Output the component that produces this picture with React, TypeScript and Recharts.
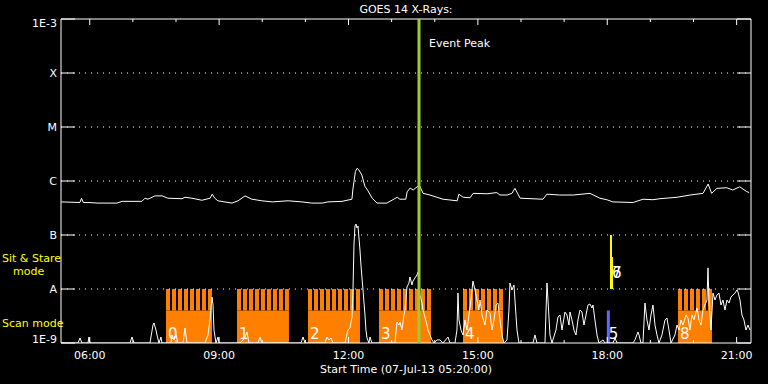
import React from "react";
import { ComposedChart, Line, XAxis, YAxis, ReferenceArea, ReferenceLine } from "recharts";

const W = 768;
const H = 384;
const PLOT_LEFT = 61;
const PLOT_RIGHT = 751;
const PLOT_TOP = 19;
const PLOT_BOTTOM = 343;
const FONT = "'DejaVu Sans', sans-serif";

// time axis in decimal hours (UT), 16 h from start time
const T0 = 5 + 20 / 60;
const T1 = T0 + 16;
const hourTicks = [6, 7, 8, 9, 10, 11, 12, 13, 14, 15, 16, 17, 18, 19, 20, 21];

// flux axis (W/m^2), log scale
const fluxTicks = [1e-9, 1e-8, 1e-7, 1e-6, 1e-5, 1e-4, 1e-3];
const fluxLabels = ["1E-9", "A", "B", "C", "M", "X", "1E-3"];
const classLevels = [1e-8, 1e-7, 1e-6, 1e-5, 1e-4];

// 1-8 A channel [hour, flux]
const longChannel: [number, number][] = [
  [5.34, 4.1e-7], [5.77, 4.0e-7], [5.81, 4.8e-7], [5.85, 4.0e-7], [5.96, 4.0e-7],
  [6.19, 3.9e-7], [6.63, 3.9e-7], [6.75, 4.2e-7], [7.21, 4.2e-7], [7.28, 4.8e-7],
  [7.35, 4.6e-7], [7.51, 5.3e-7], [7.68, 5.3e-7], [7.81, 4.8e-7], [8.14, 4.7e-7],
  [8.21, 5.0e-7], [8.37, 4.8e-7], [8.6, 4.4e-7], [8.79, 4.8e-7], [8.84, 5.7e-7],
  [8.9, 4.8e-7], [8.97, 4.3e-7], [9.3, 3.9e-7], [9.44, 4.3e-7], [9.6, 5.3e-7],
  [9.76, 4.6e-7], [9.99, 4.3e-7], [10.23, 4.1e-7], [10.6, 4.3e-7], [10.92, 4.1e-7],
  [11.15, 3.9e-7], [11.39, 3.9e-7], [11.52, 4.1e-7], [11.85, 4.2e-7], [12.08, 4.6e-7],
  [12.1, 6.8e-7], [12.16, 1.5e-6], [12.2, 1.72e-6], [12.24, 1.6e-6], [12.31, 1.29e-6],
  [12.38, 8.0e-7], [12.45, 6.6e-7], [12.55, 4.8e-7], [12.66, 3.9e-7], [12.89, 3.9e-7],
  [13.13, 5.0e-7], [13.19, 4.6e-7], [13.33, 4.6e-7], [13.36, 6.3e-7], [13.43, 7.4e-7],
  [13.5, 6.8e-7], [13.59, 7.8e-7], [13.64, 8.4e-7], [13.73, 5.9e-7], [13.89, 5.5e-7],
  [14.05, 5.0e-7], [14.19, 4.6e-7], [14.52, 4.3e-7], [14.56, 5.7e-7], [14.66, 5.0e-7],
  [14.82, 4.9e-7], [14.89, 5.9e-7], [15.21, 5.8e-7], [15.44, 6.1e-7], [15.51, 5.5e-7],
  [15.68, 5.5e-7], [15.79, 5.9e-7], [15.86, 7.3e-7], [15.98, 4.8e-7], [16.51, 4.6e-7],
  [16.6, 5.7e-7], [16.9, 5.5e-7], [17.21, 5.5e-7], [17.6, 5.9e-7], [17.83, 4.8e-7],
  [17.99, 4.5e-7], [18.13, 4.1e-7], [18.6, 4.0e-7], [18.83, 4.6e-7], [19.06, 4.5e-7],
  [19.22, 4.7e-7], [19.62, 5.0e-7], [19.92, 5.5e-7], [20.22, 5.9e-7], [20.34, 8.8e-7],
  [20.42, 5.9e-7], [20.54, 7.3e-7], [20.77, 7.5e-7], [20.91, 6.8e-7], [21.07, 7.8e-7],
  [21.23, 6.4e-7], [21.29, 6.1e-7],
];

// 0.5-4 A channel [hour, flux]
const shortChannel: [number, number][] = [
  [5.34, 1e-9], [5.727, 1e-9], [5.774, 1.24e-9], [5.82, 1e-9], [5.959, 1e-9], [5.982, 1.29e-9], [6.005, 1e-9],
  [6.933, 1e-9], [6.979, 1.29e-9], [7.026, 1e-9], [7.397, 1e-9], [7.466, 2.15e-9], [7.489, 2.35e-9],
  [7.536, 1.74e-9], [7.559, 1.41e-9], [7.605, 1e-9], [7.652, 1.29e-9], [7.675, 1e-9], [7.884, 1e-9],
  [7.907, 1.41e-9], [7.953, 1.14e-9], [8.0, 1.41e-9], [8.046, 1e-9], [8.162, 1e-9], [8.208, 1.9e-9],
  [8.255, 1e-9], [8.672, 1e-9], [8.742, 1.41e-9], [8.788, 2.67e-9], [8.834, 7.1e-9], [8.858, 5.05e-9],
  [8.881, 1.74e-9], [8.927, 1e-9], [8.974, 1.29e-9], [8.997, 1e-9], [9.484, 1e-9], [9.553, 1.14e-9],
  [9.6, 1.29e-9], [9.646, 1.6e-9], [9.692, 1e-9], [9.901, 1e-9], [9.947, 1.29e-9], [9.994, 1e-9],
  [10.898, 1e-9], [10.945, 1.29e-9], [10.991, 1e-9], [11.455, 1e-9], [11.501, 1.29e-9], [11.547, 1.14e-9],
  [11.594, 1.24e-9], [11.64, 1e-9], [11.918, 1e-9], [11.988, 1.74e-9], [12.034, 1.9e-9], [12.081, 3.03e-9],
  [12.104, 9.6e-9], [12.127, 6.53e-8], [12.15, 1.47e-7], [12.173, 1.6e-7], [12.197, 1.35e-7],
  [12.22, 1.47e-7], [12.266, 5.27e-8], [12.289, 2.78e-8], [12.336, 9.6e-9], [12.382, 3.3e-9],
  [12.405, 1.74e-9], [12.429, 1.24e-9], [12.475, 1e-9], [12.498, 1.29e-9], [12.544, 1e-9],
  [13.078, 1e-9], [13.124, 2.45e-9], [13.171, 2.15e-9], [13.194, 2.45e-9], [13.24, 1.74e-9],
  [13.286, 3.3e-9], [13.31, 4.08e-9], [13.356, 1.09e-8], [13.402, 1.29e-8], [13.426, 1.67e-8],
  [13.472, 1.19e-8], [13.495, 1.4e-8], [13.542, 1.6e-8], [13.588, 1.82e-8], [13.611, 2.06e-8],
  [13.634, 1.4e-8], [13.657, 7.74e-9], [13.704, 5.5e-9], [13.727, 4.08e-9], [13.773, 3.03e-9],
  [13.82, 2.15e-9], [13.843, 1.74e-9], [13.889, 1.41e-9], [13.936, 1.14e-9], [13.982, 1e-9],
  [14.052, 1.14e-9], [14.121, 1.14e-9], [14.191, 1e-9], [14.307, 1.29e-9], [14.353, 1e-9],
  [14.469, 1e-9], [14.515, 1.74e-9], [14.539, 8.4e-9], [14.562, 2.67e-9], [14.608, 1.74e-9],
  [14.655, 1.41e-9], [14.701, 2.67e-9], [14.747, 1.74e-9], [14.794, 3.3e-9], [14.84, 6.25e-9],
  [14.886, 1.4e-8], [14.933, 9.6e-9], [14.979, 6.25e-9], [15.026, 4.08e-9], [15.049, 6.25e-9],
  [15.095, 3.3e-9], [15.165, 2.15e-9], [15.211, 4.08e-9], [15.281, 3.6e-9], [15.327, 1.74e-9],
  [15.373, 2.67e-9], [15.42, 5.05e-9], [15.466, 5.5e-9], [15.513, 2.67e-9], [15.559, 1.41e-9],
  [15.605, 1e-9], [15.675, 1.14e-9], [15.721, 4.08e-9], [15.744, 1.29e-8], [15.791, 9.6e-9],
  [15.837, 1.19e-8], [15.86, 6.25e-9], [15.907, 1.74e-9], [15.953, 1e-9], [16.278, 1e-9],
  [16.324, 1.41e-9], [16.37, 1e-9], [16.556, 1e-9], [16.602, 1.29e-8], [16.626, 6.25e-9],
  [16.672, 1.41e-9], [16.718, 1e-9], [16.811, 1.74e-9], [16.857, 3.03e-9], [16.904, 3.3e-9],
  [16.95, 1.74e-9], [17.02, 3.75e-9], [17.066, 3.3e-9], [17.113, 2.15e-9], [17.136, 3.75e-9],
  [17.182, 2.67e-9], [17.228, 1.74e-9], [17.275, 1.41e-9], [17.321, 2.67e-9], [17.368, 4.08e-9],
  [17.414, 3.75e-9], [17.46, 2.15e-9], [17.507, 3.3e-9], [17.553, 5.05e-9], [17.599, 5.27e-9],
  [17.646, 4.45e-9], [17.669, 5.05e-9], [17.715, 2.67e-9], [17.762, 1.41e-9], [17.808, 1e-9],
  [17.901, 1.14e-9], [17.947, 1e-9], [18.133, 1e-9], [18.179, 1.24e-9], [18.226, 1e-9],
  [18.597, 1e-9], [18.643, 1.14e-9], [18.712, 1.6e-9], [18.736, 1.41e-9], [18.782, 1e-9],
  [18.828, 1e-9], [18.875, 5.5e-9], [18.921, 2.67e-9], [18.968, 1.74e-9], [19.014, 3.3e-9],
  [19.06, 5.05e-9], [19.107, 2.15e-9], [19.153, 1.41e-9], [19.199, 1e-9], [19.269, 1.41e-9],
  [19.339, 2.67e-9], [19.385, 2.9e-9], [19.431, 1.74e-9], [19.478, 1e-9], [19.57, 1.41e-9],
  [19.617, 2.15e-9], [19.663, 1.74e-9], [19.71, 2.67e-9], [19.756, 2.15e-9], [19.826, 3.3e-9],
  [19.872, 2.9e-9], [19.918, 1.74e-9], [19.965, 3.3e-9], [20.011, 2.67e-9], [20.081, 4.45e-9],
  [20.127, 2.67e-9], [20.173, 2.15e-9], [20.22, 4.08e-9], [20.266, 5.05e-9], [20.312, 6.25e-9],
  [20.336, 2.46e-8], [20.359, 6.25e-9], [20.405, 1.74e-9], [20.452, 8.4e-9], [20.498, 6.25e-9],
  [20.544, 7.74e-9], [20.591, 8.4e-9], [20.637, 5.05e-9], [20.683, 6.25e-9], [20.73, 4.08e-9],
  [20.776, 6.25e-9], [20.823, 5.5e-9], [20.869, 7.1e-9], [20.915, 7.74e-9], [20.962, 8.4e-9],
  [21.008, 9.6e-9], [21.031, 8.8e-9], [21.078, 6.25e-9], [21.124, 3.3e-9], [21.17, 2.67e-9],
  [21.217, 1.74e-9], [21.263, 2.15e-9], [21.31, 1.74e-9],
];

// scan mode blocks (orange combs), one tooth per frame
const scanStart = [7.768, 9.414, 11.061, 12.707, 14.655, 19.64];
const scanFrames = [8, 9, 9, 9, 7, 6];
const scanIds = ["0", "1", "2", "3", "4", "8"];
const FRAME_STEP = 0.139;
const FRAME_OPEN = 0.093;

// single scan (blue) and sit & stare (yellow) observations
const blueScan = { start: 17.99, end: 18.06, id: "5" };
const sitStareStart = [18.064, 18.11];
const sitStareEnd = [18.11, 18.133];
const sitStareTop = [1e-7, 3.9e-8];
const sitStareIds = ["6", "7"];

const eventPeak = 13.635;

// band levels for mode marks
const FLOOR = 1e-9;
const SCAN_BASE = 4e-9;
const SCAN_TOP = 1e-8;
const STARE_BASE = 1e-8;

const longData = longChannel.map(([t, flux]) => ({ t, flux }));
const shortData = shortChannel.map(([t, flux]) => ({ t, flux }));

const ORANGE = "#ff8000";

const hh = (h: number) => `${String(h).padStart(2, "0")}:00`;

function YTick(props: any) {
  const { y, payload } = props;
  const i = fluxTicks.indexOf(payload.value);
  const dy = i === 0 ? -4 : i === fluxTicks.length - 1 ? 4 : 0;
  return (
    <g>
      <line x1={PLOT_LEFT} x2={PLOT_LEFT + 14} y1={y} y2={y} stroke="#fff" />
      <line x1={PLOT_RIGHT - 14} x2={PLOT_RIGHT} y1={y} y2={y} stroke="#fff" />
      <text x={PLOT_LEFT - 4} y={y + dy + 4} textAnchor="end" fill="#fff" fontSize={11} fontFamily={FONT}>
        {fluxLabels[i]}
      </text>
    </g>
  );
}

function XTick(props: any) {
  const { x, payload } = props;
  const major = payload.value % 3 === 0;
  const len = major ? 6 : 3;
  return (
    <g>
      <line x1={x} x2={x} y1={PLOT_TOP} y2={PLOT_TOP + len} stroke="#fff" />
      <line x1={x} x2={x} y1={PLOT_BOTTOM} y2={PLOT_BOTTOM - len} stroke="#fff" />
      {major && (
        <text x={x} y={PLOT_BOTTOM + 16} textAnchor="middle" fill="#fff" fontSize={11} fontFamily={FONT}>
          {hh(payload.value)}
        </text>
      )}
    </g>
  );
}

const idLabel = (text: string, dx: number, up: number) => (p: any) => {
  const vb = p.viewBox;
  return (
    <text x={vb.x + dx} y={vb.y + vb.height - up} fill="#fff" fontSize={15} fontFamily={FONT}>
      {text}
    </text>
  );
};

const peakLabel = (p: any) => (
  <text x={p.viewBox.x + 10} y={PLOT_TOP + 28} fill="#fff" fontSize={11} fontFamily={FONT}>
    Event Peak
  </text>
);

export default function App() {
  const teeth: React.ReactNode[] = [];
  scanStart.forEach((s, b) => {
    for (let k = 0; k < scanFrames[b]; k++) {
      const t = s + k * FRAME_STEP;
      teeth.push(
        <ReferenceArea key={`tooth-${b}-${k}`} x1={t} x2={t + FRAME_OPEN} y1={SCAN_BASE} y2={SCAN_TOP}
          fill={ORANGE} fillOpacity={1} stroke="none" />
      );
    }
  });

  return (
    <div style={{ position: "relative", width: W, height: H, background: "#000", fontFamily: FONT }}>
      <style>{`body{margin:0;background:#000}`}</style>
      <div style={{ position: "absolute", left: PLOT_LEFT, width: PLOT_RIGHT - PLOT_LEFT, top: 3, textAlign: "center",
        color: "#fff", fontSize: 11, lineHeight: "13px" }}>
        GOES 14 X-Rays:
      </div>
      <div style={{ position: "absolute", left: 2, top: 252, color: "#ffff00", fontSize: 11, lineHeight: "13px" }}>
        Sit &amp; Stare
        <div style={{ paddingLeft: 11 }}>mode</div>
      </div>
      <div style={{ position: "absolute", left: 2, top: 317, color: "#ffff00", fontSize: 11, lineHeight: "13px" }}>
        Scan mode
      </div>
      <ComposedChart width={W} height={H} margin={{ top: PLOT_TOP, right: W - PLOT_RIGHT, bottom: 9, left: 5 }}>
        <XAxis type="number" dataKey="t" domain={[T0, T1]} ticks={hourTicks} interval={0} allowDataOverflow
          tick={XTick} tickLine={false} axisLine={false} height={32}
          label={{ value: "Start Time (07-Jul-13 05:20:00)", position: "insideBottom", offset: 2, fill: "#fff", fontSize: 11, fontFamily: FONT }} />
        <YAxis type="number" scale="log" domain={[1e-9, 1e-3]} ticks={fluxTicks} interval={0} allowDataOverflow
          tick={YTick} tickLine={false} axisLine={false} width={56} />

        {classLevels.map((v) => (
          <ReferenceLine key={`lvl-${v}`} y={v} stroke="#fff" strokeDasharray="1 5" />
        ))}

        {scanStart.map((s, b) => (
          <ReferenceArea key={`scan-${b}`} x1={s} x2={s + (scanFrames[b] - 1) * FRAME_STEP + FRAME_OPEN}
            y1={FLOOR} y2={SCAN_BASE} fill={ORANGE} fillOpacity={1} stroke="none"
            label={idLabel(scanIds[b], 2, 4)} />
        ))}
        {teeth}

        <ReferenceArea x1={blueScan.start} x2={blueScan.end} y1={FLOOR} y2={SCAN_BASE}
          fill="#6464ff" fillOpacity={1} stroke="none" label={idLabel(blueScan.id, 2, 4)} />
        {sitStareStart.map((s, i) => (
          <ReferenceArea key={`ss-${i}`} x1={s} x2={sitStareEnd[i]} y1={STARE_BASE} y2={sitStareTop[i]}
            fill="#ffff00" fillOpacity={1} stroke="none" />
        ))}

        <Line data={shortData} dataKey="flux" type="linear" stroke="#fff" strokeWidth={1} dot={false}
          isAnimationActive={false} />
        <Line data={longData} dataKey="flux" type="linear" stroke="#fff" strokeWidth={1} dot={false}
          isAnimationActive={false} />

        {sitStareStart.map((s, i) => (
          <ReferenceArea key={`ss-lbl-${i}`} x1={sitStareStart[0]} x2={sitStareEnd[1]} y1={STARE_BASE} y2={sitStareTop[i]}
            fill="none" stroke="none" label={idLabel(sitStareIds[i], 2, 11)} />
        ))}

        <ReferenceLine x={eventPeak} stroke="#9acd32" strokeWidth={3} label={peakLabel} />
        <ReferenceArea x1={T0} x2={T1} y1={1e-9} y2={1e-3} fill="none" stroke="#fff" />
      </ComposedChart>
    </div>
  );
}
